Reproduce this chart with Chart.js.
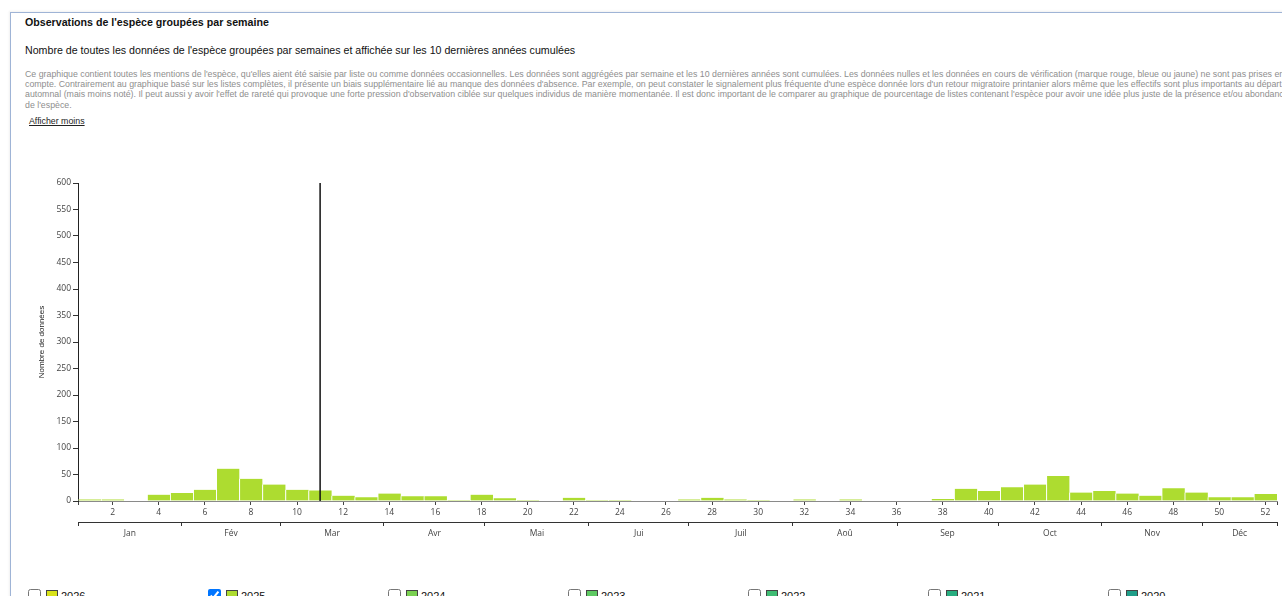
<!DOCTYPE html>
<html lang="fr">
<head>
<meta charset="utf-8">
<title>Observations de l'espèce groupées par semaine</title>
<script src="https://cdn.jsdelivr.net/npm/chart.js@4.4.1/dist/chart.umd.min.js"></script>
<style>
  html, body { margin: 0; padding: 0; background: #fff; overflow: hidden; }
  body { width: 1282px; height: 596px; position: relative; font-family: "Liberation Sans", Arial, sans-serif; color: #111; }
  .box { position: absolute; left: 10px; top: 12px; width: 1290px; height: 700px;
         border-top: 1px solid #9fb4d6; border-left: 1px solid #9fb4d6; box-shadow: -1px -1px 2px rgba(0,0,0,0.06); }
  .title { position: absolute; left: 25px; top: 16px; font-size: 10.65px; line-height: 13px; font-weight: bold; white-space: nowrap; }
  .subtitle { position: absolute; left: 25px; top: 44px; font-size: 10.65px; line-height: 13px; white-space: nowrap; }
  .desc { position: absolute; left: 25px; top: 69px; font-size: 8.8px; line-height: 10.2px; color: #8e8e8e; white-space: nowrap; }
  .more { position: absolute; left: 29px; top: 116px; font-size: 8.8px; line-height: 10px; color: #222; text-decoration: underline; }
  #chart { position: absolute; left: 0; top: 170px; }
  .legend { position: absolute; left: 0; top: 589px; width: 1282px; height: 30px; }
  .item { position: absolute; top: 0; height: 16px; font-size: 11px; }
  .item input { position: absolute; left: 0; top: 0; margin: 0; width: 13px; height: 13px; }
  .item .sw { position: absolute; left: 18px; top: 1px; width: 10px; height: 10px; border: 1px solid #444; }
  .item span.lbl { position: absolute; left: 33px; top: 1px; line-height: 13px; }
</style>
</head>
<body>
<div class="box"></div>
<div class="title">Observations de l'espèce groupées par semaine</div>
<div class="subtitle">Nombre de toutes les données de l'espèce groupées par semaines et affichée sur les 10 dernières années cumulées</div>
<div class="desc">Ce graphique contient toutes les mentions de l'espèce, qu'elles aient été saisie par liste ou comme données occasionnelles. Les données sont aggrégées par semaine et les 10 dernières années sont cumulées. Les données nulles et les données en cours de vérification (marque rouge, bleue ou jaune) ne sont pas prises en<br>compte. Contrairement au graphique basé sur les listes complètes, il présente un biais supplémentaire lié au manque des données d'absence. Par exemple, on peut constater le signalement plus fréquente d'une espèce donnée lors d'un retour migratoire printanier alors même que les effectifs sont plus importants au départ<br>automnal (mais moins noté). Il peut aussi y avoir l'effet de rareté qui provoque une forte pression d'observation ciblée sur quelques individus de manière momentanée. Il est donc important de le comparer au graphique de pourcentage de listes contenant l'espèce pour avoir une idée plus juste de la présence et/ou abondance<br>de l'espèce.</div>
<div class="more">Afficher moins</div>

<canvas id="chart" width="1282" height="380"></canvas>

<div class="legend" id="legend"></div>

<script>
// weekly counts, 10 years cumulated
const weeks = [1, 2, 3, 4, 5, 6, 7, 8, 9, 10, 11, 12, 13, 14, 15, 16, 17, 18, 19, 20, 21, 22, 23, 24, 25, 26,
  27, 28, 29, 30, 31, 32, 33, 34, 35, 36, 37, 38, 39, 40, 41, 42, 43, 44, 45, 46, 47, 48, 49, 50, 51, 52];
const counts = [3, 3, 1, 12, 15, 21, 61, 42, 31, 21, 20, 10, 7, 14, 9, 9, 2, 12, 5, 2, 1, 6, 2, 2, 0, 1,
  3, 6, 3, 2, 0, 3, 0, 3, 0, 0, 1, 4, 23, 19, 26, 31, 47, 16, 19, 14, 10, 24, 16, 7, 7, 13];
const currentWeek = 11;
const weekTicks = [2, 4, 6, 8, 10, 12, 14, 16, 18, 20, 22, 24, 26, 28, 30, 32, 34, 36, 38, 40, 42, 44, 46, 48, 50, 52];
const monthNames = ['Jan', 'Fév', 'Mar', 'Avr', 'Mai', 'Jui', 'Juil', 'Aoû', 'Sep', 'Oct', 'Nov', 'Déc'];
const monthBounds = [0.5, 5.0, 9.27, 13.77, 18.15, 22.66, 26.99, 31.5, 36.02, 40.4, 44.9, 49.26, 52.5];
const yMax = 600;
const yStep = 50;

const legendYears = ['2026', '2025', '2024', '2023', '2022', '2021', '2020'];
const legendColors = ['#d8e219', '#addc30', '#7ad151', '#5ec962', '#3fbc73', '#28ae80', '#1f9e89'];
const shownYear = '2025';

// legend (checkbox row under the chart)
const legend = document.getElementById('legend');
legendYears.forEach((yr, i) => {
  const it = document.createElement('div');
  it.className = 'item';
  it.style.left = (28 + i * 180) + 'px';
  it.innerHTML = '<input type="checkbox"' + (yr === shownYear ? ' checked' : '') + '>' +
    '<div class="sw" style="background:' + legendColors[i] + '"></div><span class="lbl">' + yr + '</span>';
  legend.appendChild(it);
});

const barColor = legendColors[legendYears.indexOf(shownYear)];
const tickFont = { family: 'Open Sans', size: 8.5 };

// month axis: boundaries get a tick mark, midpoints get the name
const monthMids = monthNames.map((m, i) => (monthBounds[i] + monthBounds[i + 1]) / 2);
const monthTicks = monthBounds.concat(monthMids).sort((a, b) => a - b);

new Chart(document.getElementById('chart'), {
  type: 'bar',
  data: {
    datasets: [
      {
        type: 'line',
        data: [{ x: currentWeek, y: 0 }, { x: currentWeek, y: yMax }],
        borderColor: '#111',
        borderWidth: 1.5,
        pointRadius: 0,
        xAxisID: 'x',
        order: 1
      },
      {
        label: shownYear,
        data: weeks.map((w, i) => ({ x: w, y: counts[i] })),
        backgroundColor: barColor,
        borderColor: '#ffffff',
        borderWidth: { left: 1, right: 0, top: 0, bottom: 0 },
        borderSkipped: false,
        barThickness: 'flex',
        barPercentage: 1,
        categoryPercentage: 1,
        xAxisID: 'x',
        order: 2
      }
    ]
  },
  options: {
    responsive: false,
    animation: false,
    layout: { padding: { left: 0, right: 5, top: 13, bottom: 6 } },
    plugins: { legend: { display: false }, tooltip: { enabled: false } },
    scales: {
      x: {
        type: 'linear', min: 0.5, max: 52.5, offset: false, position: 'bottom', weight: 0,
        afterBuildTicks: s => { s.ticks = [0.5].concat(weekTicks, [52.5]).map(v => ({ value: v })); },
        ticks: {
          autoSkip: false, maxRotation: 0, padding: 2, color: '#444', font: tickFont,
          callback: v => weekTicks.includes(v) ? String(v) : ''
        },
        grid: { drawOnChartArea: false, offset: false, tickLength: 4, color: '#444' },
        border: { display: true, color: '#8a8a8a', width: 1 },
        afterFit: s => { s.height = 21; }
      },
      xm: {
        type: 'linear', min: 0.5, max: 52.5, offset: false, position: 'bottom', weight: 1,
        afterBuildTicks: s => { s.ticks = monthTicks.map(v => ({ value: v })); },
        ticks: {
          autoSkip: false, maxRotation: 0, padding: 2, color: '#444', font: tickFont,
          callback: v => { const k = monthMids.indexOf(v); return k >= 0 ? monthNames[k] : ''; }
        },
        grid: {
          drawOnChartArea: false, offset: false, tickLength: 4,
          color: c => monthBounds.includes(c.tick ? c.tick.value : -1) ? '#333' : 'rgba(0,0,0,0)'
        },
        border: { display: true, color: '#333', width: 1 },
        afterFit: s => { s.height = 22; }
      },
      y: {
        min: 0, max: yMax, position: 'left',
        ticks: { stepSize: yStep, color: '#444', font: tickFont, padding: 2 },
        grid: { drawOnChartArea: false, tickLength: 5, color: '#333' },
        border: { display: true, color: '#222', width: 1 },
        title: {
          display: true, text: 'Nombre de données', color: '#222',
          font: { family: 'Liberation Sans', size: 8 },
          padding: { top: 37, bottom: 0 }
        },
        afterFit: s => { s.width = 78; }
      }
    }
  }
});
</script>
</body>
</html>
